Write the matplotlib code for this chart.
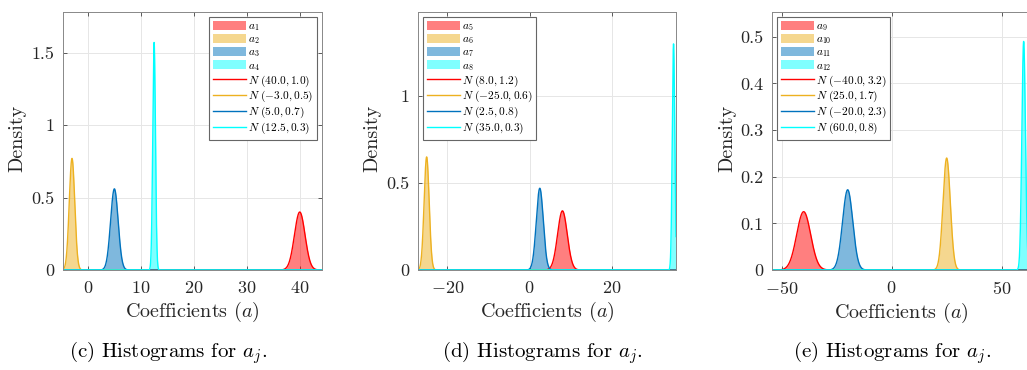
import numpy as np
import matplotlib
matplotlib.use('Agg')
import matplotlib.pyplot as plt

plt.rcParams['font.family'] = 'serif'
plt.rcParams['font.serif'] = ['cmr10', 'DejaVu Serif']
plt.rcParams['mathtext.fontset'] = 'cm'
plt.rcParams['axes.formatter.use_mathtext'] = True

# colours (fill / line) shared by the three panels
fill_colors = ['#ff0000', '#edb120', '#0072bd', '#00ffff']
line_colors = ['#ff0000', '#edb120', '#0072bd', '#00ffff']

# panel (c): a1..a4
means_c = [40.0, -3.0, 5.0, 12.5]
sigmas_c = [1.0, 0.5, 0.7, 0.3]
peaks_c = [0.40, 0.77, 0.56, 1.57]
# panel (d): a5..a8
means_d = [8.0, -25.0, 2.5, 35.0]
sigmas_d = [1.2, 0.6, 0.8, 0.3]
peaks_d = [0.34, 0.65, 0.47, 1.30]
# panel (e): a9..a12
means_e = [-40.0, 25.0, -20.0, 60.0]
sigmas_e = [3.2, 1.7, 2.3, 0.8]
peaks_e = [0.125, 0.24, 0.172, 0.49]

coef_names = [['1', '2', '3', '4'], ['5', '6', '7', '8'], ['9', '10', '11', '12']]
captions = ['(c) Histograms for $a_j$.', '(d) Histograms for $a_j$.', '(e) Histograms for $a_j$.']

xlims = [(-4.7, 44.2), (-27.1, 35.6), (-54.4, 63.2)]
ylims = [(0, 1.78), (0, 1.483), (0, 0.553)]
xticks = [[0, 10, 20, 30, 40], [-20, 0, 20], [-50, 0, 50]]
yticks = [[0, 0.5, 1, 1.5], [0, 0.5, 1], [0, 0.1, 0.2, 0.3, 0.4, 0.5]]
legend_loc = ['upper right', 'upper left', 'upper left']

# axes in pixels (left, right), figure 1027x370
W, H = 1027, 370
ax_px = [(63, 322), (418, 676), (772, 1030.7)]
ylabel_x = [17, 372, 727]
caption_x = [168, 542, 892]

fig = plt.figure(figsize=(W / 100, H / 100), dpi=100)

panels = [(means_c, sigmas_c, peaks_c), (means_d, sigmas_d, peaks_d), (means_e, sigmas_e, peaks_e)]
for i, (means, sigmas, peaks) in enumerate(panels):
    l, r = ax_px[i]
    ax = fig.add_axes([l / W, (H - 270) / H, (r - l) / W, 258 / H])
    x = np.linspace(xlims[i][0], xlims[i][1], 3000)
    fills = []
    curves = []
    for k in range(4):
        s = 1.0 / (peaks[k] * np.sqrt(2 * np.pi))
        y = peaks[k] * np.exp(-0.5 * ((x - means[k]) / s) ** 2)
        curves.append(y)
        mask = np.abs(x - means[k]) < 4 * s
        f = ax.fill_between(x[mask], 0, y[mask], color=fill_colors[k], alpha=0.5, lw=0,
                            label='$a_{%s}$' % coef_names[i][k])
        fills.append(f)
    lines = []
    for k in range(4):
        lab = r'$N\ (%.1f, %.1f)$' % (means[k], sigmas[k])
        ln, = ax.plot(x, curves[k], color=line_colors[k], lw=1.0, label=lab)
        lines.append(ln)

    ax.set_xlim(xlims[i])
    ax.set_ylim(ylims[i])
    ax.set_xticks(xticks[i])
    ax.set_yticks(yticks[i])
    ax.set_yticklabels(['%g' % v for v in yticks[i]])
    ax.grid(True, color='#e6e6e6', lw=0.7)
    ax.set_axisbelow(True)
    for sp in ax.spines.values():
        sp.set_color('#888888')
        sp.set_linewidth(0.7)
    ax.tick_params(direction='in', length=3, width=0.6, color='#444444',
                   top=True, right=True, labelsize=13, labelcolor='#262626')
    ax.tick_params(axis='x', pad=7)
    ax.tick_params(axis='y', pad=6)
    ax.set_xlabel('Coefficients ($a$)', fontsize=14.5, color='#262626', labelpad=3)
    leg = ax.legend(handles=fills + lines, loc=legend_loc[i], fontsize=8.2,
                    handlelength=2.9, handleheight=0.9, labelspacing=0.05,
                    borderpad=0.3, handletextpad=0.2, borderaxespad=0.45,
                    fancybox=False, framealpha=1)
    leg.get_frame().set_edgecolor('#666666')
    leg.get_frame().set_linewidth(0.8)
    fig.text(ylabel_x[i] / W, 1 - 138 / H, 'Density', rotation=90, fontsize=14.5,
             color='#262626', ha='center', va='center')
    fig.text(caption_x[i] / W, 1 - 353 / H, captions[i], fontsize=15,
             ha='center', va='center')

fig.savefig('out.png', dpi=100)
